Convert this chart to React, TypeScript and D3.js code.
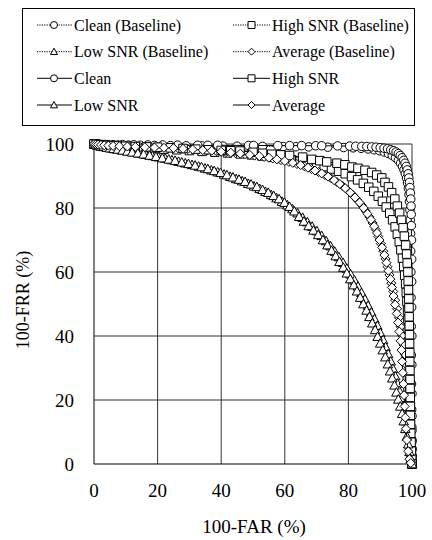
import React from "react";
import * as d3 from "d3";

type Pt = [number, number];

const xTicks = [0, 20, 40, 60, 80, 100];
const yTicks = [0, 20, 40, 60, 80, 100];

const cleanBaseline: Pt[] = [[0,100],[1,99.85],[2.5,99.8],[4.5,99.75],[7.5,99.7],[10.8,99.65],[14.5,99.6],[19,99.55],[24,99.5],[29,99.45],[34,99.4],[40.5,99.35],[45,99.3],[53,99.25],[59.5,99.2],[63.5,99.15],[67.5,99.1],[73.5,99],[78.5,98.9],[81.5,98.8],[84,98.65],[86.2,98.45],[88.1,98.2],[89.8,97.9],[91.3,97.5],[92.6,97],[93.8,96.4],[94.8,95.7],[95.7,94.9],[96.4,94],[97,93],[97.5,91.9],[97.9,90.7],[98.3,89.3],[98.6,87.8],[98.85,86.1],[99.05,84.2],[99.2,82],[99.35,79.4],[99.45,76.2],[99.55,72],[99.6,66.5],[99.65,60],[99.7,52],[99.75,43],[99.8,34],[99.85,25],[99.9,17],[99.95,11.5],[100,7.5],[100,4.8],[100,2.7],[100,1.2],[100,0]];

const highBaseline: Pt[] = [[0,100],[1,99.85],[2,99.7],[3.2,99.55],[4.7,99.4],[6.5,99.25],[8.8,99.1],[11.5,98.95],[14.7,98.8],[18.2,98.6],[22,98.4],[26,98.2],[30,97.95],[34,97.7],[38,97.45],[42,97.2],[46,96.9],[49.5,96.6],[52.8,96.25],[56,95.9],[59,95.5],[62,95.1],[64.8,94.6],[67.5,94.1],[70,93.5],[72.4,92.9],[74.7,92.2],[76.9,91.5],[79,90.7],[81,89.8],[82.9,88.8],[84.7,87.7],[86.4,86.5],[88,85.2],[89.4,83.7],[90.7,82.1],[91.9,80.3],[93,78.4],[93.9,76.3],[94.7,74.1],[95.4,71.8],[96,69.4],[96.5,66.9],[97,64.3],[97.4,61.7],[97.7,59],[98,56.3],[98.2,53.6],[98.4,50.8],[98.6,48],[98.7,45.2],[98.8,42.4],[98.9,39.6],[99,36.8],[99.05,34],[99.1,31.2],[99.15,28.4],[99.2,25.6],[99.25,22.8],[99.3,20],[99.35,17.2],[99.4,14.4],[99.45,11.6],[99.5,8.8],[99.6,6],[99.75,3.3],[99.9,1.2],[100,0]];

const lowBaseline: Pt[] = [[0,100],[0.8,99.7],[1.8,99.5],[2.8,99.3],[4,99],[5.5,98.7],[7,98.4],[8.7,98.1],[10.5,97.8],[12.4,97.5],[14.3,97.1],[16.3,96.7],[18.3,96.3],[20.3,95.9],[22.4,95.5],[24.5,95],[26.6,94.5],[28.7,94],[30.8,93.5],[32.9,93],[34.9,92.4],[36.9,91.8],[38.9,91.2],[40.9,90.5],[42.8,89.8],[44.7,89.1],[46.6,88.4],[48.5,87.6],[50.3,86.8],[52.1,86],[53.9,85.1],[55.7,84.1],[57.4,83.1],[59.1,82],[60.8,80.9],[62.4,79.7],[64,78.4],[65.6,77],[67.1,75.6],[68.6,74.2],[70.1,72.8],[71.6,71.3],[73,69.7],[74.4,68.1],[75.7,66.4],[77,64.7],[78.3,62.9],[79.5,61.1],[80.7,59.3],[81.9,57.4],[83,55.5],[84.1,53.5],[85.2,51.5],[86.2,49.5],[87.2,47.4],[88.2,45.3],[89.1,43.2],[90,41],[90.9,38.8],[91.7,36.6],[92.5,34.4],[93.3,32.1],[94,29.8],[94.7,27.5],[95.4,25.2],[96,22.9],[96.6,20.6],[97.1,18.2],[97.6,15.8],[98.1,13.4],[98.5,11],[98.9,8.6],[99.2,6.2],[99.5,3.8],[99.8,1.6],[100,0]];

const avgBaseline: Pt[] = [[0,100],[0.9,99.85],[1.8,99.75],[2.8,99.65],[4,99.55],[5.3,99.45],[7,99.35],[9.2,99.25],[11.7,99.15],[14.5,99.05],[17.5,98.95],[20.5,98.85],[23.5,98.75],[26.5,98.6],[29.5,98.4],[32.6,98.2],[35.6,98],[38.5,97.75],[41.5,97.45],[44.5,97.15],[47.5,96.8],[50.5,96.4],[53.5,95.95],[56.2,95.45],[58.8,94.95],[61.3,94.4],[63.8,93.75],[66.2,93],[68.4,92.15],[70.6,91.25],[72.6,90.3],[74.6,89.25],[76.4,88.1],[78.2,86.85],[79.8,85.5],[81.4,84.05],[82.8,82.5],[84.2,80.85],[85.4,79.1],[86.6,77.25],[87.6,75.3],[88.6,73.25],[89.4,71.1],[90.2,68.85],[91,66.5],[91.7,64.1],[92.3,61.65],[92.9,59.1],[93.5,56.5],[94.1,53.9],[94.7,51.2],[95.3,48.5],[95.9,45.7],[96.4,42.9],[96.9,40.1],[97.3,37.2],[97.7,34.3],[98,31.3],[98.3,28.3],[98.5,25.3],[98.7,22.2],[98.9,19.1],[99.1,16],[99.2,12.9],[99.35,9.7],[99.5,6.5],[99.65,3.5],[99.8,1.3],[100,0]];

const clean: Pt[] = [[0,100],[1.5,99.9],[3.5,99.85],[6,99.8],[9,99.8],[12.5,99.75],[16.9,99.7],[21.6,99.7],[26.3,99.65],[32.6,99.6],[35.8,99.6],[38.9,99.6],[48.6,99.55],[50.2,99.55],[57.8,99.5],[61.5,99.5],[65.3,99.5],[69.7,99.45],[71.6,99.45],[76.6,99.4],[80.4,99.35],[82.3,99.3],[84.2,99.25],[85.8,99.2],[87.3,99.1],[88.7,99],[90,98.85],[91.2,98.7],[92.3,98.5],[93.3,98.2],[94.2,97.9],[95,97.5],[95.7,97],[96.3,96.4],[96.9,95.7],[97.4,94.9],[97.8,94],[98.2,93],[98.5,91.9],[98.8,90.7],[99,89.4],[99.2,88],[99.35,86.4],[99.5,84.7],[99.6,82.8],[99.7,80.6],[99.75,78],[99.8,74.5],[99.85,70],[99.9,64],[99.9,57],[99.9,49],[99.95,40],[99.95,31],[100,22],[100,15],[100,10.5],[100,7],[100,4.5],[100,2.5],[100,1],[100,0]];

const high: Pt[] = [[0,100],[0.7,99.9],[1.5,99.8],[2.5,99.7],[3.8,99.6],[5.5,99.5],[7.5,99.4],[10,99.3],[13,99.2],[16.5,99.1],[20,99],[24,98.8],[28,98.6],[32,98.4],[36,98.2],[40,98],[43,97.9],[45.9,97.8],[50,97.4],[53,97.1],[55.9,96.8],[58.7,96.6],[61.5,96.4],[65.6,95.9],[68.5,95.2],[71,94.8],[73.2,94.4],[76.4,94],[78.9,93.5],[81.1,92.8],[83,92.4],[85.2,91.8],[87.3,91.1],[88.9,90.3],[90.5,89.4],[91.5,88],[92.6,86.6],[93.6,84.8],[94.6,82.8],[95.4,80.6],[96.1,78.4],[96.7,76.2],[97.2,73.8],[97.6,71.2],[98,68.4],[98.3,65.6],[98.5,62.8],[98.7,60],[98.8,57.2],[98.9,54.4],[99,51.6],[99.05,48.8],[99.1,46],[99.15,43.2],[99.2,40.4],[99.25,37.6],[99.3,34.8],[99.3,32],[99.35,29.2],[99.4,26.4],[99.4,23.6],[99.45,20.8],[99.5,18],[99.5,15.2],[99.55,12.4],[99.6,9.6],[99.7,6.8],[99.8,4],[99.9,1.5],[100,0]];

const low: Pt[] = [[0,100],[0.5,99.8],[1,99.6],[1.6,99.4],[2.3,99.2],[3,99.1],[4,98.9],[5,98.7],[6.2,98.5],[7.5,98.3],[9,98],[10.5,97.7],[12,97.4],[13.8,97.1],[15.6,96.8],[17.5,96.4],[19.5,96],[21.5,95.6],[23.5,95.2],[25.5,94.8],[27.6,94.3],[29.7,93.8],[31.8,93.3],[33.8,92.8],[35.8,92.2],[37.8,91.6],[39.8,91],[41.8,90.3],[43.7,89.6],[45.6,88.9],[47.5,88.2],[49.4,87.4],[51.2,86.6],[53,85.7],[54.8,84.8],[56.5,83.8],[58.2,82.8],[59.9,81.7],[61.5,80.4],[63,79],[64.5,77.3],[66,75.8],[67.5,74.4],[69,73],[70.5,71.6],[72,70],[73.4,68.4],[74.7,66.7],[76,65],[77.2,63.2],[78.4,61.4],[79.5,59.6],[80.6,57.8],[81.7,55.9],[82.7,54],[83.7,52],[84.7,50],[85.7,48],[86.6,46],[87.5,44],[88.4,41.9],[89.2,39.8],[90,37.7],[90.8,35.6],[91.6,33.4],[92.4,31.2],[93.1,29],[93.8,26.8],[94.5,24.6],[95.1,22.4],[95.7,20.2],[96.3,18],[96.9,15.7],[97.4,13.4],[97.9,11],[98.4,8.6],[98.8,6.2],[99.2,3.8],[99.6,1.6],[100,0]];

const average: Pt[] = [[0,100],[0.6,99.9],[1.3,99.8],[2.2,99.7],[3.2,99.6],[4.5,99.5],[6,99.4],[8,99.3],[10.5,99.2],[13,99.1],[16,99],[19,98.9],[22,98.8],[25,98.7],[28,98.5],[31,98.3],[34.2,98.1],[37,97.9],[40,97.6],[43,97.3],[46,97],[49,96.6],[52,96.2],[55,95.7],[57.5,95.2],[60,94.7],[62.5,94.1],[65,93.4],[67.3,92.6],[69.5,91.7],[71.6,90.8],[73.6,89.8],[75.5,88.7],[77.3,87.5],[79,86.2],[80.6,84.8],[82.1,83.3],[83.5,81.7],[84.8,80],[86,78.2],[87.1,76.3],[88.1,74.3],[89,72.2],[89.8,70],[90.6,67.7],[91.3,65.3],[92,62.9],[92.6,60.4],[93.2,57.8],[93.7,55.2],[94.2,52.5],[94.7,49.8],[95.2,47],[95.6,44.2],[96,41.4],[96.4,38.5],[96.7,35.6],[96.9,32],[97.1,28.5],[97.3,25],[97.5,21.5],[97.7,18],[97.9,14.5],[98.1,11],[98.4,7.5],[98.8,4],[99.2,1.5],[99.6,0.3]];

type Shape = "circle" | "square" | "triangle" | "diamond";

const seriesNames = [
  "Clean (Baseline)", "High SNR (Baseline)", "Low SNR (Baseline)", "Average (Baseline)",
  "Clean", "High SNR", "Low SNR", "Average",
];
const seriesData: Pt[][] = [cleanBaseline, highBaseline, lowBaseline, avgBaseline, clean, high, low, average];
const seriesShapes: Shape[] = ["circle", "square", "triangle", "diamond", "circle", "square", "triangle", "diamond"];
const seriesDashed = [true, true, true, true, false, false, false, false];

const legendOrder = [0, 1, 2, 3, 4, 5, 6, 7];

function markerPath(shape: Shape, s: number): string {
  const h = s / 2;
  if (shape === "circle") return `M${h},0A${h},${h} 0 1,1 ${-h},0A${h},${h} 0 1,1 ${h},0Z`;
  if (shape === "square") return `M${-h},${-h}H${h}V${h}H${-h}Z`;
  if (shape === "triangle") return `M0,${-h}L${h},${h * 0.8}L${-h},${h * 0.8}Z`;
  return `M0,${-h}L${h},0L0,${h}L${-h},0Z`;
}

function markerSize(shape: Shape): number {
  if (shape === "triangle") return 9.5;
  if (shape === "diamond") return 9;
  return 8.5;
}

const FONT = "Liberation Serif, Tinos, Times New Roman, Times, DejaVu Serif, serif";

export default function App() {
  const W = 432, H = 540;
  const left = 94, right = 412, top = 144, bottom = 464;
  const x = d3.scaleLinear().domain([0, 100]).range([left, right]);
  const y = d3.scaleLinear().domain([0, 100]).range([bottom, top]);
  const line = d3.line<Pt>().x(d => x(d[0])).y(d => y(d[1]));

  const legendRows = [25, 51.7, 78.3, 105];
  const legendCols = [{ l1: 37, l2: 72, m: 54, t: 74 }, { l1: 233, l2: 270, m: 251.5, t: 272 }];
  const txt = { fontFamily: FONT };

  return (
    <svg width={W} height={H} style={{ display: "block", position: "absolute", left: 0, top: 0, background: "#fff" }}>
      <rect x={0} y={0} width={W} height={H} fill="#fff" />
      <rect x={22.5} y={8.5} width={392} height={117} fill="#fff" stroke="#000" strokeWidth={1} />
      {legendOrder.map((si, i) => {
        const row = Math.floor(i / 2), col = i % 2;
        const c = legendCols[col];
        const cy = legendRows[row];
        return (
          <g key={"lg" + si}>
            <line x1={c.l1} x2={c.l2} y1={cy} y2={cy} stroke="#000" strokeWidth={1}
              strokeDasharray={seriesDashed[si] ? "1.2,1.2" : undefined} />
            <path d={markerPath(seriesShapes[si], 7)} transform={`translate(${c.m},${cy})`} fill="#fff" stroke="#000" strokeWidth={1} />
            <text x={c.t} y={cy + 5.5} style={txt} fontSize={16} fill="#000">{seriesNames[si]}</text>
          </g>
        );
      })}
      {xTicks.map(t => (
        <line key={"gx" + t} x1={x(t)} x2={x(t)} y1={top} y2={bottom} stroke={t === 0 ? "#000" : "#333"} strokeWidth={1} />
      ))}
      {yTicks.map(t => (
        <line key={"gy" + t} x1={left} x2={right} y1={y(t)} y2={y(t)} stroke={t === 0 ? "#000" : "#333"} strokeWidth={1} />
      ))}
      {seriesData.map((data, si) => (
        <g key={"s" + si}>
          <path d={line(data) || ""} fill="none" stroke="#000" strokeWidth={1}
            strokeDasharray={seriesDashed[si] ? "1.2,1.2" : undefined} />
          {data.map((d, j) => (
            <path key={j} d={markerPath(seriesShapes[si], markerSize(seriesShapes[si]))} transform={`translate(${x(d[0])},${y(d[1])})`}
              fill="#fff" stroke="#000" strokeWidth={1} />
          ))}
        </g>
      ))}
      {xTicks.map(t => (
        <text key={"tx" + t} x={x(t)} y={496.5} textAnchor="middle" style={txt} fontSize={19} fill="#000">{t}</text>
      ))}
      {yTicks.map(t => (
        <text key={"ty" + t} x={74} y={y(t) + 6.5} textAnchor="end" style={txt} fontSize={19} fill="#000">{t}</text>
      ))}
      <text x={254} y={533} textAnchor="middle" style={txt} fontSize={19} fill="#000">100-FAR (%)</text>
      <text transform="translate(29,300) rotate(-90)" textAnchor="middle" style={txt} fontSize={18} fill="#000">100-FRR (%)</text>
    </svg>
  );
}
